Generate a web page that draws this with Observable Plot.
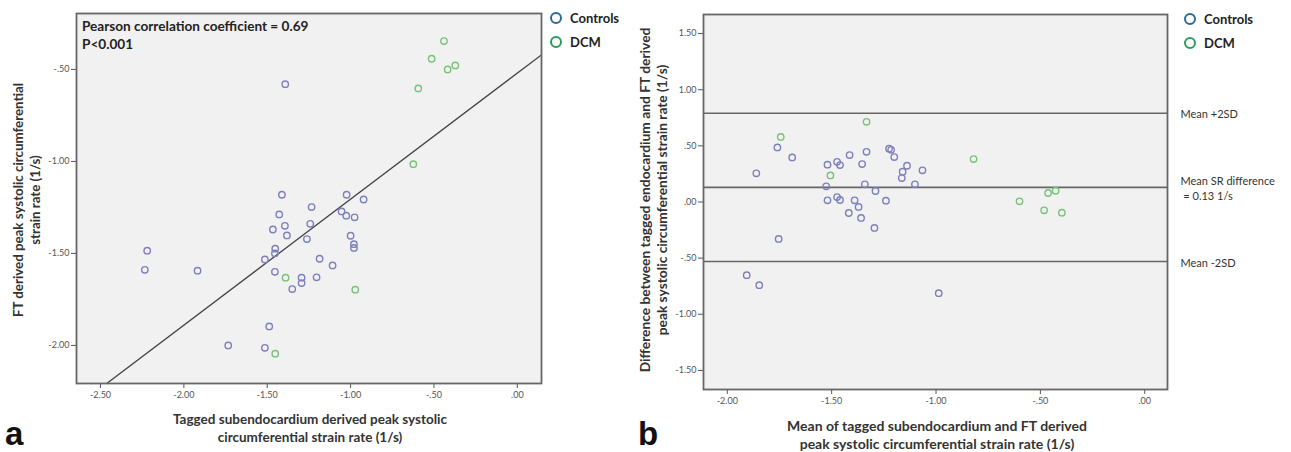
<!DOCTYPE html>
<html><head><meta charset="utf-8">
<script src="https://cdn.jsdelivr.net/npm/d3@7"></script>
<script src="https://cdn.jsdelivr.net/npm/@observablehq/plot@0.6"></script>
<style>
body{margin:0;background:#fff;font-family:Lato,"Open Sans",sans-serif;}
#root{position:relative;width:1291px;height:452px;overflow:hidden;}
.abs{position:absolute;white-space:nowrap;}
.xt{font-weight:bold;font-size:13.5px;color:#333;text-align:center;line-height:18px;transform:translateX(-50%);}
.yt{font-weight:bold;font-size:13.3px;color:#333;text-align:center;line-height:17px;transform:translate(-50%,-50%) rotate(-90deg);}
.leg{font-weight:bold;font-size:13px;color:#222;display:flex;align-items:center;height:22px;}
.leg svg{margin-right:7px;}
.panel{font-family:"Liberation Sans",Arial,sans-serif;font-weight:bold;font-size:33px;color:#111;line-height:33px;}
svg text{font-family:Lato,"Open Sans",sans-serif;}
</style>
</head><body>
<div id="root"></div>
<script>
// ---------- Panel a data (tagged vs FT) ----------
const aControlsTagged = [-1.412,-1.234,-1.024,-0.922,-1.428,-1.054,-1.026,-0.976,-1.394,-1.466,-1.242,-1.382,-1.262,-1.000,-0.980,-0.980,-1.452,-1.454,-1.514,-1.186,-1.108,-1.454,-1.294,-1.294,-1.204,-1.350,-1.392,-2.220,-2.234,-1.918,-1.734,-1.514,-1.488];
const aControlsFT     = [-1.181,-1.248,-1.181,-1.207,-1.288,-1.272,-1.295,-1.304,-1.350,-1.370,-1.339,-1.402,-1.422,-1.404,-1.450,-1.470,-1.474,-1.500,-1.533,-1.529,-1.565,-1.600,-1.632,-1.661,-1.630,-1.694,-0.580,-1.485,-1.589,-1.594,-2.000,-2.013,-1.897];
const aDcmTagged = [-0.440,-0.514,-0.418,-0.372,-0.594,-0.624,-1.390,-0.972,-1.452];
const aDcmFT     = [-0.346,-0.442,-0.500,-0.478,-0.603,-1.015,-1.632,-1.697,-2.045];
const fitSlope = 0.685, fitIntercept = -0.52;
const aXTicks = [-2.5,-2.0,-1.5,-1.0,-0.5,0];
const aYTicks = [-0.5,-1.0,-1.5,-2.0];

// ---------- Panel b data (Bland-Altman) ----------
const bControlsMean = [-1.760,-1.689,-1.861,-1.520,-1.474,-1.460,-1.526,-1.520,-1.474,-1.460,-1.418,-1.754,-1.414,-1.333,-1.354,-1.225,-1.215,-1.200,-1.139,-1.160,-1.164,-1.065,-1.101,-1.341,-1.290,-1.240,-1.390,-1.371,-1.359,-1.295,-1.907,-1.847,-0.987];
const bControlsDiff = [0.486,0.397,0.255,0.332,0.358,0.329,0.140,0.015,0.044,0.018,-0.098,-0.329,0.418,0.447,0.338,0.475,0.465,0.400,0.323,0.270,0.213,0.282,0.157,0.157,0.098,0.012,0.015,-0.044,-0.142,-0.231,-0.652,-0.741,-0.812];
const bDcmMean = [-1.744,-1.506,-1.333,-0.820,-0.600,-0.463,-0.427,-0.482,-0.397];
const bDcmDiff = [0.580,0.237,0.714,0.382,0.006,0.080,0.100,-0.074,-0.095];
const limitValues = [0.79, 0.13, -0.53];
const limitLabels = ["Mean +2SD", "Mean SR difference\n = 0.13 1/s", "Mean -2SD"];
const bXTicks = [-2.0,-1.5,-1.0,-0.5,0];
const bYTicks = [1.5,1.0,0.5,0,-0.5,-1.0,-1.5];

const groups = ["Controls","DCM"];
const legendColors = ["#2a6a94","#2e9a5c"];
const pointColors = ["#7d80bd","#79c27a"];

const fmt = d => d3.format(".2f")(d).replace(/\u2212/g, "-").replace(/^(-?)0\./, "$1.");
const rowsOf = (xs, ys, g) => xs.map((x,i) => ({x, y: ys[i], g}));

const root = document.getElementById("root");
function place(el, left, top){ el.style.position="absolute"; el.style.left=left+"px"; el.style.top=top+"px"; root.appendChild(el); }

const common = (W,H,mt,mr,mb,ml,xd,yd,xt,yt) => ({
  width: W, height: H, marginTop: mt, marginRight: mr, marginBottom: mb, marginLeft: ml,
  style: {fontSize: "9px", color: "#555", background: "transparent", overflow: "visible"},
  x: {domain: xd, ticks: xt, tickFormat: fmt, label: null},
  y: {domain: yd, ticks: yt, tickFormat: fmt, label: null},
  color: {domain: groups, range: pointColors}
});

// ---------- Panel a ----------
const aData = [...rowsOf(aControlsTagged, aControlsFT, "Controls"), ...rowsOf(aDcmTagged, aDcmFT, "DCM")];
const aXDomain = [-2.644, 0.145], aYDomain = [-2.207, -0.196];
const fitLine = aXDomain.map(x => ({x, y: fitIntercept + fitSlope * x}));
const plotA = Plot.plot({
  ...common(645, 452, 13, 104, 69, 76, aXDomain, aYDomain, aXTicks, aYTicks),
  marks: [
    Plot.frame({fill: "#f1f1f1", stroke: null}),
    Plot.axisX({ticks: aXTicks, tickFormat: fmt, tickSize: 5, tickPadding: 3, label: null, stroke: "#555"}),
    Plot.axisY({ticks: aYTicks, tickFormat: fmt, tickSize: 5, tickPadding: 2, label: null, stroke: "#555"}),
    Plot.line(fitLine, {x: "x", y: "y", stroke: "#444", strokeWidth: 1.3, clip: true}),
    Plot.dot(aData, {x: "x", y: "y", stroke: "g", r: 3.2, strokeWidth: 1.4, fill: "none"}),
    Plot.frame({stroke: "#666", strokeWidth: 1.8})
  ]
});
place(plotA, 0, 0);

// ---------- Panel b ----------
const bData = [...rowsOf(bControlsMean, bControlsDiff, "Controls"), ...rowsOf(bDcmMean, bDcmDiff, "DCM")];
const bXDomain = [-2.114, 0.109], bYDomain = [-1.67, 1.67];
const limits = limitValues.map((y,i) => ({y, label: limitLabels[i]}));
const plotB = Plot.plot({
  ...common(646, 452, 14, 119, 63, 63, bXDomain, bYDomain, bXTicks, bYTicks),
  marks: [
    Plot.frame({fill: "#f1f1f1", stroke: null}),
    Plot.axisX({ticks: bXTicks, tickFormat: fmt, tickSize: 5, tickPadding: 3, label: null, stroke: "#555"}),
    Plot.axisY({ticks: bYTicks, tickFormat: fmt, tickSize: 5, tickPadding: 2, label: null, stroke: "#555"}),
    Plot.ruleY(limits, {y: "y", stroke: "#666", strokeWidth: 1.6}),
    Plot.text(limits, {x: () => bXDomain[1], y: "y", text: "label", dx: 13, textAnchor: "start", lineAnchor: "middle", fontSize: 11, fill: "#333", lineHeight: 1.45}),
    Plot.dot(bData, {x: "x", y: "y", stroke: "g", r: 3.2, strokeWidth: 1.4, fill: "none"}),
    Plot.frame({stroke: "#666", strokeWidth: 1.8})
  ]
});
place(plotB, 640, 0);

// ---------- Text overlays ----------
function div(cls, html, left, top){ const d = document.createElement("div"); d.className = "abs " + cls; d.innerHTML = html; d.style.left = left + "px"; d.style.top = top + "px"; root.appendChild(d); return d; }
div("", "<b>Pearson correlation coefficient = 0.69<br>P&lt;0.001</b>", 82, 17).style.cssText += "font-size:13.6px;line-height:18px;color:#222;";
div("xt", "Tagged subendocardium derived peak systolic<br>circumferential strain rate (1/s)", 310, 410);
div("yt", "FT derived peak systolic circumferential<br>strain rate (1/s)", 27, 200);
const bx = div("xt", "Mean of tagged subendocardium and FT derived<br>peak systolic circumferential strain rate (1/s)", 937, 417);
bx.style.fontSize = "14px";
const by = div("yt", "Difference between tagged endocardium and FT derived<br>peak systolic circumferential strain rate (1/s)", 653, 200);
by.style.fontSize = "13.8px";
div("panel", "a", 5, 417);
div("panel", "b", 638, 417);

function legend(left, top){
  groups.forEach((g,i) => {
    div("leg", `<svg width="14" height="14"><circle cx="7" cy="7" r="5" fill="none" stroke="${legendColors[i]}" stroke-width="2"/></svg>${g}`, left, top + i*24);
  });
}
legend(549, 7);
legend(1183, 8);
</script>
</body></html>
